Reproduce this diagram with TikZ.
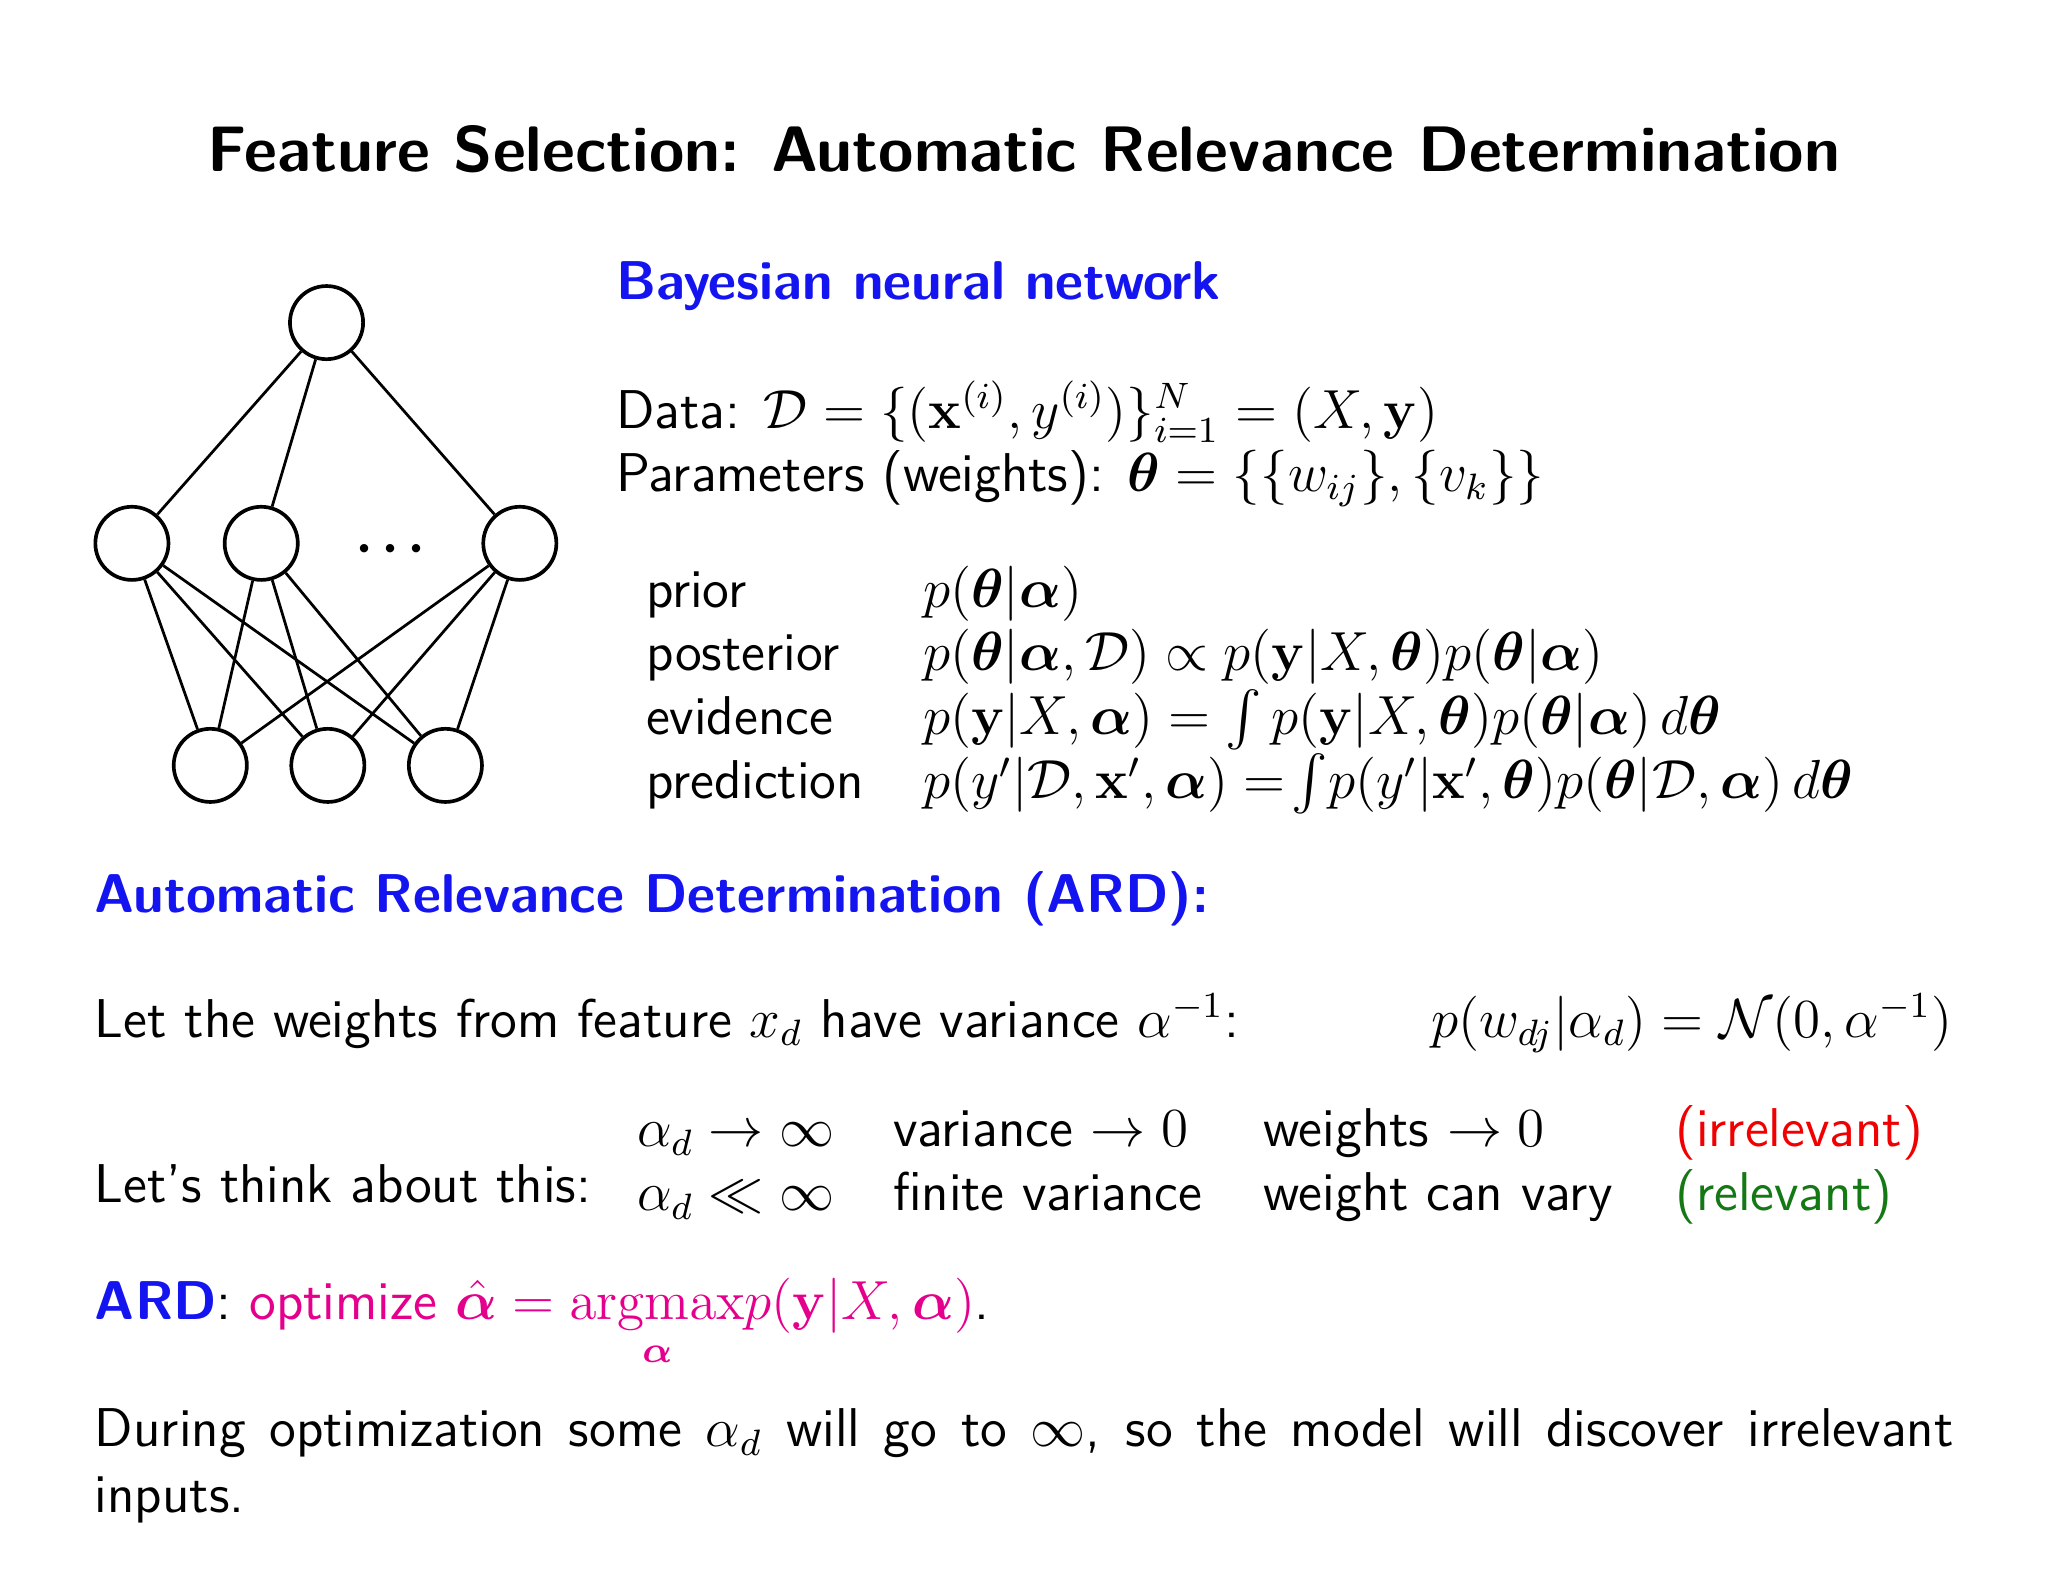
\documentclass[tikz,border=0pt]{standalone}
\usepackage{amsmath,amssymb,bm}
\usepackage{xcolor}
\definecolor{tblue}{RGB}{20,20,240}
\definecolor{tpink}{RGB}{228,0,140}
\definecolor{tgreen}{RGB}{20,120,20}
\definecolor{tred}{RGB}{240,0,0}
\begin{document}
\begin{tikzpicture}[x=1cm,y=-1cm,
  neuron/.style={circle,draw,line width=0.8pt,minimum size=0.56cm,inner sep=0pt},
  txt/.style={anchor=base west,inner sep=0pt,font=\fontsize{11.9}{14}\selectfont\sffamily},
  edge/.style={line width=0.6pt}]
\useasboundingbox (0,0) rectangle (15.68,12.10);
% title
\node[anchor=base,inner sep=0pt,font=\fontsize{14}{17}\selectfont\sffamily\bfseries] (title) at (7.84,1.31) {Feature Selection: Automatic Relevance Determination};
% network
\node[neuron] (o) at (2.50,2.47) {};
\node[neuron] (h1) at (1.01,4.16) {};
\node[neuron] (h2) at (2.00,4.16) {};
\node[neuron] (h3) at (3.98,4.16) {};
\node[inner sep=0pt,font=\fontsize{16}{16}\selectfont] (dots) at (2.99,4.22) {$\cdot\!\cdot\!\cdot$};
\node[neuron] (i1) at (1.61,5.86) {};
\node[neuron] (i2) at (2.51,5.86) {};
\node[neuron] (i3) at (3.41,5.86) {};
\foreach \h in {h1,h2,h3}{\draw[edge] (o) -- (\h);
  \foreach \i in {i1,i2,i3}{\draw[edge] (\h) -- (\i);}}
% right text
\node[txt,font=\fontsize{11.9}{14}\selectfont\sffamily\bfseries,text=tblue] (bnn) at (4.71,2.29) {Bayesian neural network};
\node[txt] (data) at (4.71,3.28) {Data: $\mathcal{D}=\{(\mathbf{x}^{(i)},y^{(i)})\}_{i=1}^{N}=(X,\mathbf{y})$};
\node[txt] (par) at (4.71,3.76) {Parameters (weights): $\bm{\theta}=\{\{w_{ij}\},\{v_k\}\}$};
\node[txt] (l1) at (4.94,4.65) {prior};
\node[txt] (l2) at (4.94,5.13) {posterior};
\node[txt] (l3) at (4.94,5.62) {evidence};
\node[txt] (l4) at (4.94,6.11) {prediction};
\node[txt] (f1) at (7.06,4.65) {$p(\bm{\theta}|\bm{\alpha})$};
\node[txt] (f2) at (7.06,5.13) {$p(\bm{\theta}|\bm{\alpha},\mathcal{D})\propto p(\mathbf{y}|X,\bm{\theta})p(\bm{\theta}|\bm{\alpha})$};
\node[txt] (f3) at (7.06,5.62) {$p(\mathbf{y}|X,\bm{\alpha})=\int p(\mathbf{y}|X,\bm{\theta})p(\bm{\theta}|\bm{\alpha})\,d\bm{\theta}$};
\node[txt] (f4) at (7.06,6.11) {$p(y'|\mathcal{D},\mathbf{x}',\bm{\alpha})=\!\int\! p(y'|\mathbf{x}',\bm{\theta})p(\bm{\theta}|\mathcal{D},\bm{\alpha})\,d\bm{\theta}$};
% ARD
\node[txt,font=\fontsize{11.9}{14}\selectfont\sffamily\bfseries,text=tblue] (ardh) at (0.72,6.99) {Automatic Relevance Determination (ARD):};
\node[txt] (let) at (0.72,7.94) {Let the weights from feature $x_d$ have variance $\alpha^{-1}$:};
\node[txt] (pw) at (10.95,7.94) {$p(w_{dj}|\alpha_d)=\mathcal{N}(0,\alpha^{-1})$};
\node[txt] (think) at (0.72,9.21) {Let's think about this:};
\node[txt] (a1) at (4.87,8.78) {$\alpha_d\to\infty$};
\node[txt] (a2) at (4.87,9.27) {$\alpha_d\ll\infty$};
\node[txt] (b1) at (6.83,8.78) {variance $\to 0$};
\node[txt] (b2) at (6.83,9.27) {finite variance};
\node[txt] (c1) at (9.67,8.78) {weights $\to 0$};
\node[txt] (c2) at (9.67,9.27) {weight can vary};
\node[txt,text=tred] (d1) at (12.82,8.78) {(irrelevant)};
\node[txt,text=tgreen] (d2) at (12.82,9.27) {(relevant)};
\node[txt] (opt) at (0.72,10.10) {\textcolor{tblue}{\bfseries ARD}: \textcolor{tpink}{optimize $\hat{\bm{\alpha}}=\mathop{\mathrm{argmax}}\limits_{\bm{\alpha}}\!p(\mathbf{y}|X,\bm{\alpha})$}.};
\node[anchor=north west,inner sep=0pt,font=\fontsize{11.9}{14.3}\selectfont\sffamily,text width=14.23cm,align=justify] (dur) at (0.72,10.78) {During optimization some $\alpha_d$ will go to $\infty$, so the model will discover irrelevant\linebreak inputs.};
\end{tikzpicture}
\end{document}
